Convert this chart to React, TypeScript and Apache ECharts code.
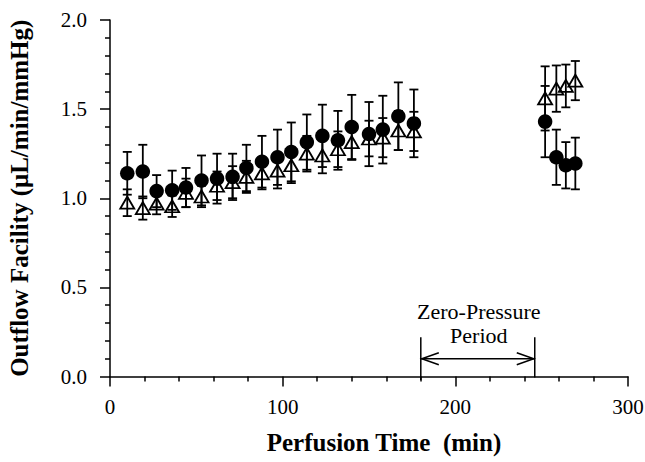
import React, { useEffect, useRef } from "react";
import * as echarts from "echarts";

// Perfusion time (min)
const times = [10, 19, 27, 36, 44, 53, 62, 71, 79, 88, 97, 105, 114, 123, 132, 140, 150, 158, 167, 176, 252, 258.5, 264, 269.5];
// Filled circles: mean and error
const circleMean = [1.14, 1.15, 1.04, 1.045, 1.06, 1.1, 1.11, 1.12, 1.17, 1.205, 1.23, 1.26, 1.315, 1.35, 1.325, 1.4, 1.36, 1.385, 1.46, 1.42, 1.43, 1.23, 1.185, 1.195];
const circleErr = [0.12, 0.15, 0.09, 0.11, 0.11, 0.14, 0.14, 0.13, 0.13, 0.145, 0.155, 0.165, 0.155, 0.175, 0.165, 0.18, 0.18, 0.19, 0.19, 0.19, 0.2, 0.155, 0.13, 0.145];
// Open triangles: mean and error
const triMean = [0.975, 0.945, 0.97, 0.955, 1.03, 1.01, 1.07, 1.09, 1.12, 1.14, 1.155, 1.185, 1.25, 1.24, 1.275, 1.315, 1.335, 1.34, 1.38, 1.375, 1.56, 1.615, 1.63, 1.66];
const triErr = [0.075, 0.065, 0.06, 0.06, 0.08, 0.06, 0.08, 0.09, 0.09, 0.09, 0.1, 0.1, 0.1, 0.1, 0.1, 0.1, 0.1, 0.11, 0.11, 0.11, 0.18, 0.13, 0.12, 0.11];

// Zero-pressure period (min)
const zeroPressurePeriod = [180, 246];
const annotationText = "Zero-Pressure\nPeriod";

const FONT = "'Liberation Serif', 'Times New Roman', serif";

function errorBarRender(params: any, api: any) {
  const x = api.value(0);
  const lo = api.value(1);
  const hi = api.value(2);
  const pLo = api.coord([x, lo]);
  const pHi = api.coord([x, hi]);
  const hw = 4.5;
  const style = { stroke: "#000", lineWidth: 1.8 };
  return {
    type: "group",
    children: [
      { type: "line", shape: { x1: pLo[0], y1: pLo[1], x2: pHi[0], y2: pHi[1] }, style },
      { type: "line", shape: { x1: pLo[0] - hw, y1: pLo[1], x2: pLo[0] + hw, y2: pLo[1] }, style },
      { type: "line", shape: { x1: pHi[0] - hw, y1: pHi[1], x2: pHi[0] + hw, y2: pHi[1] }, style },
    ],
  };
}

function annotationRender(params: any, api: any) {
  const a = api.value(0);
  const b = api.value(1);
  const topL = api.coord([a, 0.22]);
  const botL = api.coord([a, -0.02]);
  const topR = api.coord([b, 0.22]);
  const botR = api.coord([b, -0.005]);
  const arL = api.coord([a, 0.1]);
  const arR = api.coord([b, 0.1]);
  const mid = (a + b) / 2;
  const t = api.coord([mid, 0.3]);
  const style = { stroke: "#000", lineWidth: 1.5, fill: "none" };
  return {
    type: "group",
    children: [
      { type: "line", shape: { x1: topL[0], y1: topL[1], x2: botL[0], y2: botL[1] }, style },
      { type: "line", shape: { x1: topR[0], y1: topR[1], x2: botR[0], y2: botR[1] }, style },
      { type: "line", shape: { x1: arL[0], y1: arL[1], x2: arR[0], y2: arR[1] }, style },
      { type: "polyline", shape: { points: [[arL[0] + 18, arL[1] - 6], [arL[0] + 1, arL[1]], [arL[0] + 18, arL[1] + 6]] }, style },
      { type: "polyline", shape: { points: [[arR[0] - 18, arR[1] - 6], [arR[0] - 1, arR[1]], [arR[0] - 18, arR[1] + 6]] }, style },
      {
        type: "text",
        x: t[0] + 1,
        y: t[1],
        style: { text: annotationText, fontFamily: FONT, fontSize: 22, lineHeight: 24, fill: "#000", align: "center", verticalAlign: "middle" },
      },
    ],
  };
}

export default function App() {
  const ref = useRef<HTMLDivElement>(null);
  useEffect(() => {
    if (!ref.current) return;
    const chart = echarts.init(ref.current, undefined, { renderer: "svg" });
    const circleBars = times.map((t, i) => [t, circleMean[i] - circleErr[i], circleMean[i] + circleErr[i]]);
    const triBars = times.map((t, i) => [t, triMean[i] - triErr[i], triMean[i] + triErr[i]]);
    const axisCommon = {
      axisLine: { lineStyle: { color: "#000", width: 1.5 } },
      axisTick: { length: 10, lineStyle: { color: "#000", width: 1.5 } },
      minorTick: { show: true, splitNumber: 5, length: 5, lineStyle: { color: "#000", width: 1.5 } },
      splitLine: { show: false },
      minorSplitLine: { show: false },
    };
    chart.setOption({
      animation: false,
      backgroundColor: "#fff",
      grid: { left: 110, right: 17, top: 20, bottom: 85.5, containLabel: false, outerBoundsMode: "none" },
      xAxis: {
        type: "value",
        min: 0,
        max: 300,
        interval: 100,
        ...axisCommon,
        axisLabel: { fontFamily: FONT, fontSize: 21, color: "#000", margin: 20 },
        name: "Perfusion Time  (min)",
        nameLocation: "middle",
        nameGap: 53,
        nameTextStyle: { fontFamily: FONT, fontSize: 25, fontWeight: "bold", color: "#000", padding: [0, 0, 0, 30] },
      },
      yAxis: {
        type: "value",
        min: 0,
        max: 2,
        interval: 0.5,
        ...axisCommon,
        axisLabel: { fontFamily: FONT, fontSize: 21, color: "#000", margin: 23, formatter: (v: number) => v.toFixed(1) },
        name: "Outflow Facility (\u03bcL/min/mmHg)",
        nameLocation: "middle",
        nameGap: 66,
        nameTextStyle: { fontFamily: FONT, fontSize: 25, fontWeight: "bold", color: "#000", padding: [0, 0, 12, 0] },
      },
      series: [
        {
          type: "custom",
          renderItem: annotationRender,
          data: [zeroPressurePeriod],
          encode: { x: [0, 1] },
          clip: false,
          silent: true,
          z: 1,
        },
        {
          type: "custom",
          renderItem: errorBarRender,
          data: triBars,
          encode: { x: 0, y: [1, 2] },
          z: 2,
        },
        {
          type: "custom",
          renderItem: errorBarRender,
          data: circleBars,
          encode: { x: 0, y: [1, 2] },
          z: 3,
        },
        {
          type: "scatter",
          data: times.map((t, i) => [t, triMean[i]]),
          symbol: "triangle",
          symbolSize: [14, 12],
          itemStyle: { color: "rgba(0,0,0,0)", borderColor: "#000", borderWidth: 1.8, opacity: 1 },
          z: 4,
        },
        {
          type: "scatter",
          data: times.map((t, i) => [t, circleMean[i]]),
          symbol: "circle",
          symbolSize: 14.5,
          itemStyle: { color: "#000", opacity: 1 },
          z: 5,
        },
      ],
    });
    return () => chart.dispose();
  }, []);
  return <div ref={ref} style={{ width: 645, height: 462, position: "absolute", left: 0, top: 0 }} />;
}
